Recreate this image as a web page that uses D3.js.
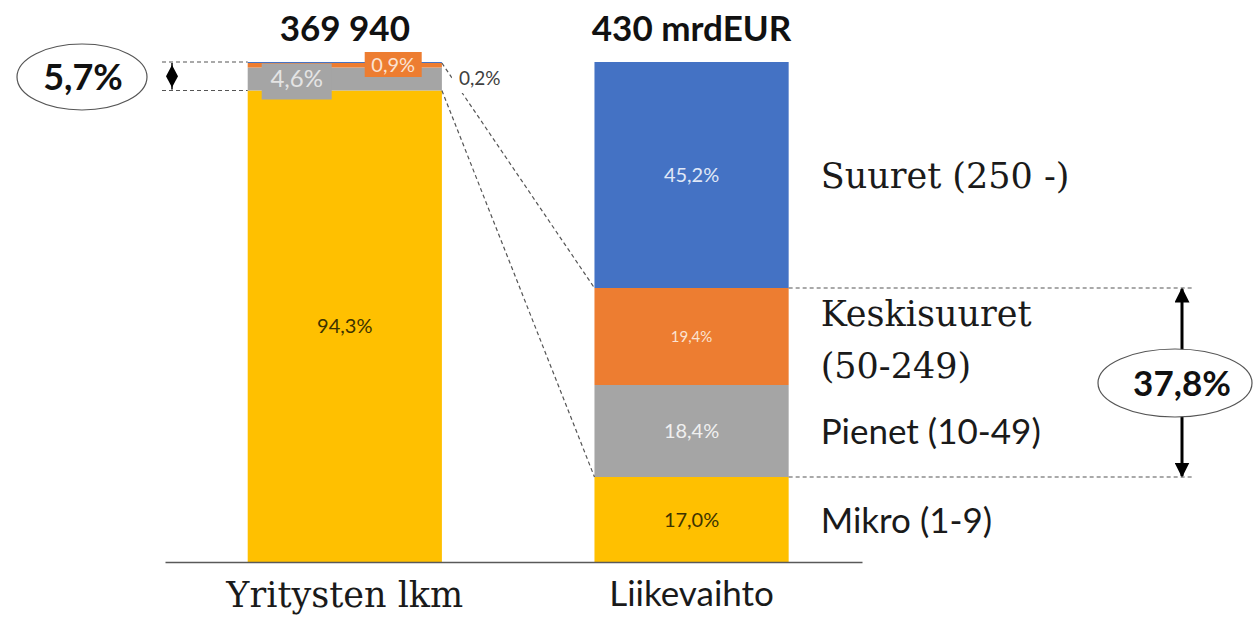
<!DOCTYPE html>
<html>
<head>
<meta charset="utf-8">
<script src="https://cdn.jsdelivr.net/npm/d3@7"></script>
<style>
  body { margin: 0; background: #fff; }
  svg { display: block; }
</style>
</head>
<body>
<svg id="chart" width="1255" height="622"></svg>
<script>
// data
var categories = ["Yritysten lkm", "Liikevaihto"];
var totals = ["369 940", "430 mrdEUR"];
var sizeClasses = ["Mikro", "Pienet", "Keskisuuret", "Suuret"];
var classLabels = [["Mikro (1-9)"], ["Pienet (10-49)"], ["Keskisuuret", "(50-249)"], ["Suuret (250 -)"]];
var countShare = [94.3, 4.6, 0.9, 0.2];      // Yritysten lkm, %
var turnoverShare = [17.0, 18.4, 19.4, 45.2]; // Liikevaihto, %
var smeCountShare = "5,7%";
var smeTurnoverShare = "37,8%";

var colors = ["#FFC000", "#A5A5A5", "#ED7D31", "#4472C4"];
var sans = "Lato, 'Open Sans', sans-serif";
var serif = "'DejaVu Serif', Georgia, serif";

var fi = d3.formatLocale({decimal: ",", thousands: " ", grouping: [3], currency: ["", "€"]});
var pct = function (v) { return fi.format(".1f")(v) + "%"; };

var svg = d3.select("#chart");

var rows = categories.map(function (c, i) {
    var r = {category: c};
    sizeClasses.forEach(function (k, j) {
        r[k] = i === 0 ? countShare[j] : turnoverShare[j];
    });
    return r;
});
var series = d3.stack().keys(sizeClasses)(rows);

var x = d3.scaleBand()
    .domain(categories)
    .range([165, 862])
    .paddingInner(0.44)
    .paddingOuter(0.225)
    .align(0.53);

var y = d3.scaleLinear()
    .domain([0, 100])
    .range([562, 62]);

// bars
var layers = svg.append("g").selectAll("g")
    .data(series)
    .enter().append("g")
    .attr("fill", function (d, i) { return colors[i]; });

layers.selectAll("rect")
    .data(function (d) { return d; })
    .enter().append("rect")
    .attr("x", function (d) { return x(d.data.category); })
    .attr("y", function (d) { return y(d[1]); })
    .attr("width", x.bandwidth())
    .attr("height", function (d) { return y(d[0]) - y(d[1]); });

// axis
var gX = svg.append("g")
    .attr("transform", "translate(0," + y(0) + ")")
    .call(d3.axisBottom(x).tickSize(0).tickPadding(26));
gX.select(".domain").attr("stroke", "#595959").attr("stroke-width", 1.5);
gX.selectAll(".tick text")
    .attr("fill", "#1a1a1a")
    .style("font-family", function (d, i) { return i === 0 ? serif : sans; })
    .style("font-size", "35px")
    .attr("dy", function (d, i) { return i === 0 ? "0.55em" : "0.5em"; });

// totals above bars
svg.append("g").selectAll("text")
    .data(categories)
    .enter().append("text")
    .attr("x", function (d) { return x(d) + x.bandwidth() / 2; })
    .attr("y", 41)
    .attr("text-anchor", "middle")
    .style("font-family", sans)
    .style("font-weight", "bold")
    .style("font-size", "35px")
    .attr("fill", "#111")
    .text(function (d, i) { return totals[i]; });

// connector lines between the bars (SME part without micro)
var left = categories[0], right = categories[1];
var cumL = d3.cumsum(countShare), cumR = d3.cumsum(turnoverShare);
var x0 = x(left) + x.bandwidth(), x1 = x(right);
var dashed = {"stroke": "#555", "stroke-width": 1.2, "stroke-dasharray": "4,3", "fill": "none"};
function dash(sel) {
    Object.keys(dashed).forEach(function (k) { sel.attr(k, dashed[k]); });
    return sel;
}
svg.append("g").selectAll("line")
    .data([[cumL[2], cumR[2]], [cumL[0], cumR[0]]])
    .enter().append("line")
    .attr("x1", x0).attr("y1", function (d) { return y(d[0]); })
    .attr("x2", x1).attr("y2", function (d) { return y(d[1]); })
    .call(dash);

// labels inside / next to the left bar
var lx = x(left), bw = x.bandwidth();
svg.append("text")
    .attr("x", lx + bw / 2).attr("y", (y(0) + y(cumL[0])) / 2 + 7)
    .attr("text-anchor", "middle")
    .style("font-family", sans).style("font-size", "20px")
    .attr("fill", "#3d3300")
    .text(pct(countShare[0]));

svg.append("rect")
    .attr("x", lx + 14).attr("y", y(cumL[1]) - 4)
    .attr("width", 70).attr("height", 36)
    .attr("fill", colors[1]);
svg.append("text")
    .attr("x", lx + 49).attr("y", y(cumL[0]) - 4)
    .attr("text-anchor", "middle")
    .style("font-family", sans).style("font-size", "24px")
    .attr("fill", "#e4e4e4")
    .text(pct(countShare[1]));

svg.append("rect")
    .attr("x", lx + 117).attr("y", y(cumL[2]) - 11)
    .attr("width", 57).attr("height", 25)
    .attr("fill", colors[2]);
svg.append("text")
    .attr("x", lx + 145.5).attr("y", y(cumL[2]) + 9)
    .attr("text-anchor", "middle")
    .style("font-family", sans).style("font-size", "20px")
    .attr("fill", "#fbe3d3")
    .text(pct(countShare[2]));

svg.append("rect")
    .attr("x", lx + bw + 10).attr("y", y(100) + 5)
    .attr("width", 60).attr("height", 26)
    .attr("fill", "#fff");
svg.append("text")
    .attr("x", lx + bw + 17).attr("y", y(100) + 23)
    .style("font-family", sans).style("font-size", "19px")
    .attr("fill", "#404040")
    .text(pct(countShare[3]));

// labels inside the right bar
var rx = x(right);
var rSizes = [20, 20, 15, 20];
var rColors = ["#3d3300", "#f0f0f0", "#fbe3d3", "#e0e8f7"];
svg.append("g").selectAll("text")
    .data(series.map(function (s) { return s[1]; }))
    .enter().append("text")
    .attr("x", rx + bw / 2)
    .attr("y", function (d, i) { return (y(d[0]) + y(d[1])) / 2 + rSizes[i] * 0.36; })
    .attr("text-anchor", "middle")
    .style("font-family", sans)
    .style("font-size", function (d, i) { return rSizes[i] + "px"; })
    .attr("fill", function (d, i) { return rColors[i]; })
    .text(function (d, i) { return pct(turnoverShare[i]); });

// class names to the right
var nameFonts = [sans, sans, serif, serif];
var nameSizes = [35, 35, 35, 35];
var names = svg.append("g").selectAll("text")
    .data(series.map(function (s) { return s[1]; }))
    .enter().append("text")
    .attr("x", rx + bw + 32)
    .attr("y", function (d, i) {
        var mid = (y(d[0]) + y(d[1])) / 2;
        return classLabels[i].length > 1 ? mid - 11 : mid + 13;
    })
    .style("font-family", function (d, i) { return nameFonts[i]; })
    .style("font-size", function (d, i) { return nameSizes[i] + "px"; })
    .attr("fill", "#1a1a1a");
names.each(function (d, i) {
    var t = d3.select(this);
    var x0 = t.attr("x");
    classLabels[i].forEach(function (line, k) {
        t.append("tspan").attr("x", x0).attr("dy", k === 0 ? 0 : 52).text(line);
    });
});

// arrow marker
var defs = svg.append("defs");
defs.append("marker")
    .attr("id", "tri").attr("viewBox", "0 0 10 10")
    .attr("refX", 9).attr("refY", 5)
    .attr("markerWidth", 5).attr("markerHeight", 5)
    .attr("orient", "auto-start-reverse")
    .append("path").attr("d", "M0,0L10,5L0,10z").attr("fill", "#000");

// left annotation: 5,7%
var yTopL = y(100), yBotL = y(cumL[0]);
var yMidL = (yTopL + yBotL) / 2;
dash(svg.append("line").attr("x1", 162).attr("x2", lx).attr("y1", yTopL).attr("y2", yTopL));
dash(svg.append("line").attr("x1", 162).attr("x2", lx).attr("y1", yBotL).attr("y2", yBotL));
svg.append("line")
    .attr("x1", 172).attr("x2", 172)
    .attr("y1", yTopL + 1).attr("y2", yBotL - 1)
    .attr("stroke", "#000").attr("stroke-width", 1.5);
svg.append("path")
    .attr("d", d3.line()([[172, yTopL + 3], [178, yMidL], [172, yBotL - 3], [166, yMidL]]) + "Z")
    .attr("fill", "#000");
svg.append("ellipse")
    .attr("cx", 82).attr("cy", 77).attr("rx", 65).attr("ry", 33)
    .attr("fill", "#fff").attr("stroke", "#555").attr("stroke-width", 1.2);
svg.append("text")
    .attr("x", 83).attr("y", 90)
    .attr("text-anchor", "middle")
    .style("font-family", sans).style("font-weight", "bold").style("font-size", "36px")
    .attr("fill", "#111")
    .text(smeCountShare);

// right annotation: 37,8%
var yTopR = y(cumR[2]), yBotR = y(cumR[0]);
dash(svg.append("line").attr("x1", rx + bw).attr("x2", 1194).attr("y1", yTopR).attr("y2", yTopR));
dash(svg.append("line").attr("x1", rx + bw).attr("x2", 1194).attr("y1", yBotR).attr("y2", yBotR));
svg.append("line")
    .attr("x1", 1182).attr("x2", 1182)
    .attr("y1", 350).attr("y2", yTopR + 1)
    .attr("stroke", "#000").attr("stroke-width", 3)
    .attr("marker-end", "url(#tri)");
svg.append("line")
    .attr("x1", 1182).attr("x2", 1182)
    .attr("y1", 416).attr("y2", yBotR - 1)
    .attr("stroke", "#000").attr("stroke-width", 3)
    .attr("marker-end", "url(#tri)");
svg.append("ellipse")
    .attr("cx", 1175).attr("cy", 383).attr("rx", 77).attr("ry", 34)
    .attr("fill", "#fff").attr("stroke", "#555").attr("stroke-width", 1.2);
svg.append("text")
    .attr("x", 1182).attr("y", 396)
    .attr("text-anchor", "middle")
    .style("font-family", sans).style("font-weight", "bold").style("font-size", "35px")
    .attr("fill", "#111")
    .text(smeTurnoverShare);
</script>
</body>
</html>
